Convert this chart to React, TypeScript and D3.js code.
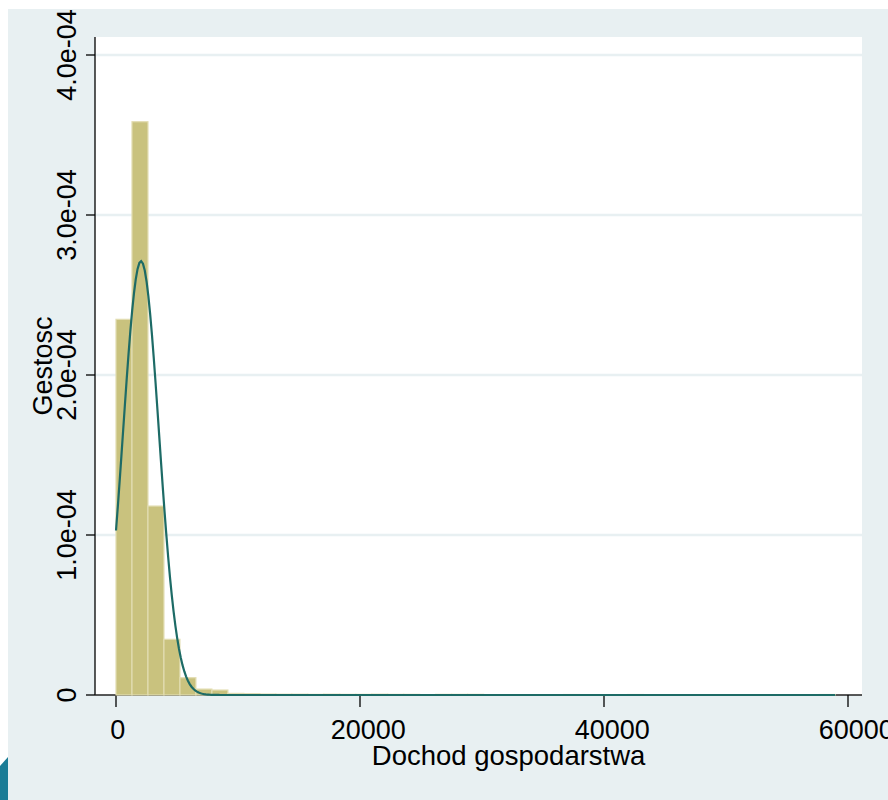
import React from "react";
import * as d3 from "d3";

// histogram: bin width and density per bin
const binWidth = 1310;
const densities = [
  2.348e-4, 3.583e-4, 1.181e-4, 3.48e-5, 1.08e-5, 3.7e-6, 3.1e-6,
  1.0e-6, 8e-7, 6e-7, 5e-7, 5e-7, 4e-7, 5e-7, 4e-7, 4e-7, 5e-7, 4e-7, 4e-7,
  0, 4e-7, 4e-7, 4e-7, 0, 0, 0, 0, 0, 3e-7, 0, 0, 0, 3e-7,
  0, 0, 0, 0, 0, 0, 0, 0, 0, 0, 0, 3e-7,
];

// fitted normal curve
const normMean = 2049;
const normSd = 1471;

const xTicks = [0, 20000, 40000, 60000];
const yTicks = [0, 1e-4, 2e-4, 3e-4, 4e-4];
const yTickLabels = ["0", "1.0e-04", "2.0e-04", "3.0e-04", "4.0e-04"];
const xTitle = "Dochod gospodarstwa";
const yTitle = "Gestosc";

const plot = { left: 95, right: 862, top: 37, bottom: 695 };
const font = "'Liberation Sans', Arial, sans-serif";

// x-side text sits a little right of its anchor (wider font than the layout expected)
const shift = (width: number) => 0.11 * width;

const App = () => {
  const x = d3.scaleLinear().domain([0, 60000]).range([116, 848]);
  const y = d3.scaleLinear().domain([0, 4e-4]).range([695, 55]);

  const xMax = densities.length * binWidth;
  const pts = d3.range(0, 401).map(i => {
    const v = (xMax * i) / 400;
    const z = (v - normMean) / normSd;
    return [v, Math.exp(-0.5 * z * z) / (normSd * Math.sqrt(2 * Math.PI))];
  });
  const line = d3.line<number[]>().x(d => x(d[0])).y(d => y(d[1]));

  const xFont = 27;
  const titleFont = 27.5;

  return (
    <svg width={888} height={800} style={{ position: "absolute", left: 0, top: 0 }}>
      <rect x={0} y={0} width={888} height={800} fill="#ffffff" />
      <rect x={8} y={9} width={880} height={791} fill="#e8f0f2" />
      <path d="M0,766 L8,757 L8,800 L0,800 Z" fill="#1b7c96" />
      <rect x={plot.left} y={plot.top} width={plot.right - plot.left} height={plot.bottom - plot.top} fill="#ffffff" />

      {yTicks.slice(1).map(t => (
        <line key={t} x1={plot.left} x2={plot.right} y1={y(t)} y2={y(t)} stroke="#e8f0f2" strokeWidth={2.5} />
      ))}

      {/* axes */}
      <line x1={plot.left} x2={plot.left} y1={plot.top} y2={plot.bottom} stroke="#000" strokeWidth={1.3} />
      <line x1={plot.left} x2={plot.right} y1={plot.bottom} y2={plot.bottom} stroke="#222" strokeWidth={1.5} />
      {yTicks.map((t, i) => (
        <g key={t}>
          <line x1={86} x2={plot.left} y1={y(t)} y2={y(t)} stroke="#000" strokeWidth={1.3} />
          <text transform={`translate(76,${y(t)}) rotate(-90)`} textAnchor="middle" fontFamily={font} fontSize={27} fill="#000">
            {yTickLabels[i]}
          </text>
        </g>
      ))}
      {xTicks.map(t => {
        const w = String(t).length * 0.556 * xFont;
        return (
          <g key={t}>
            <line x1={x(t)} x2={x(t)} y1={plot.bottom} y2={707} stroke="#000" strokeWidth={1.3} />
            <text x={x(t) + shift(w)} y={739} textAnchor="middle" fontFamily={font} fontSize={xFont} fill="#000">
              {t}
            </text>
          </g>
        );
      })}
      <text
        x={(plot.left + plot.right) / 2 + shift(9.95 * titleFont)}
        y={765}
        textAnchor="middle"
        fontFamily={font}
        fontSize={titleFont}
        fill="#000"
      >
        {xTitle}
      </text>
      <text transform={`translate(52,366) rotate(-90)`} textAnchor="middle" fontFamily={font} fontSize={27} fill="#000">{yTitle}</text>

      {/* bars */}
      {densities.map((d, i) =>
        d > 0 ? (
          <rect
            key={i}
            x={x(i * binWidth)}
            y={y(d)}
            width={x(binWidth) - x(0)}
            height={y(0) - y(d)}
            fill="#c9c27e"
            stroke="#e2ddb2"
            strokeWidth={1.2}
          />
        ) : null
      )}

      <path d={line(pts) || ""} fill="none" stroke="#1d6b66" strokeWidth={2.2} />
    </svg>
  );
};

export default App;
